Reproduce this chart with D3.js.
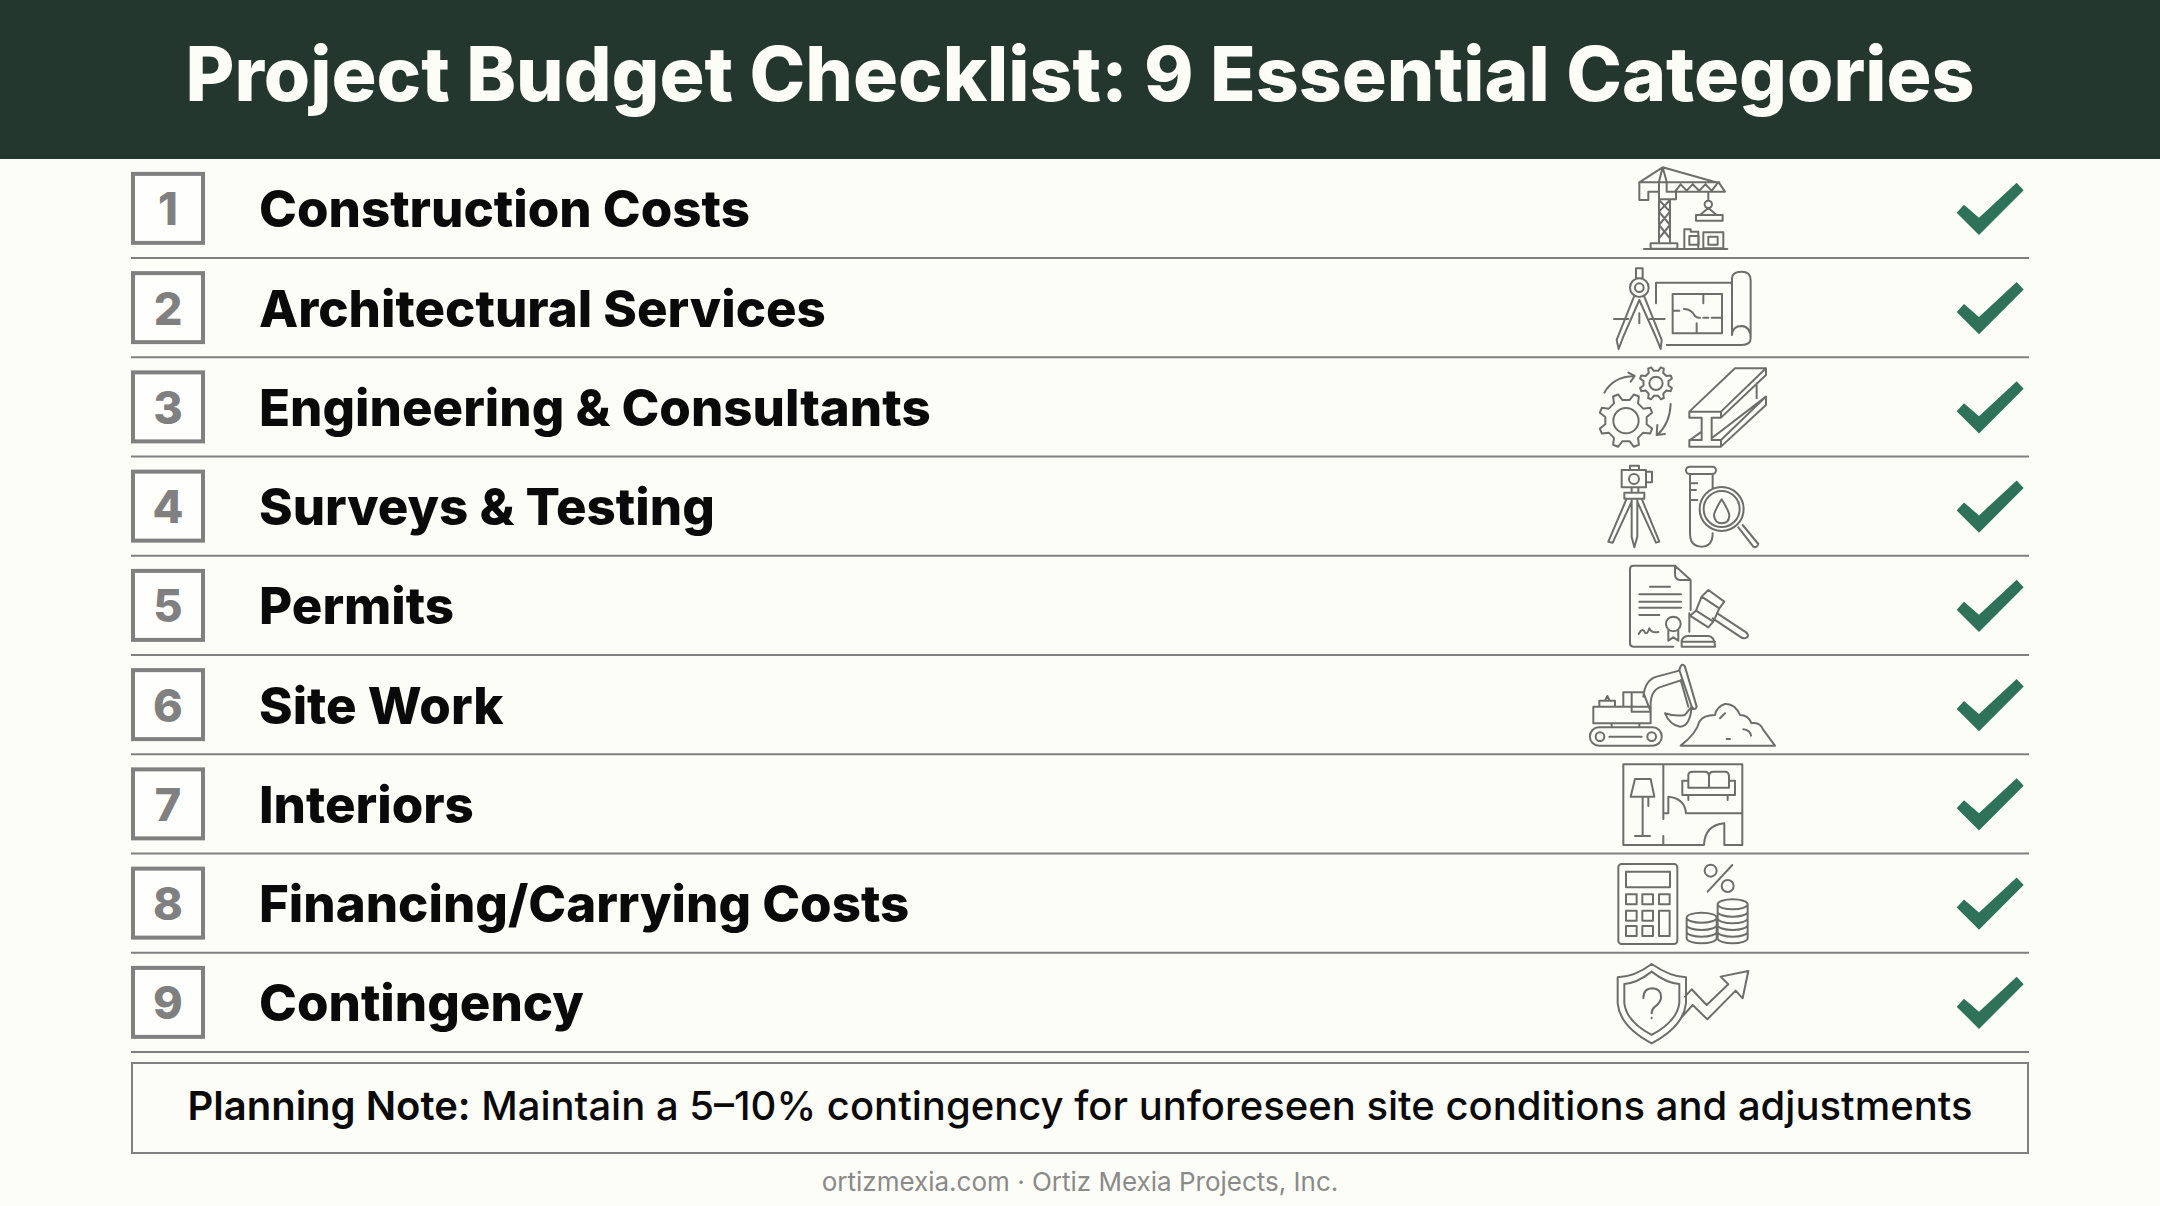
<!DOCTYPE html>
<html lang="en">
<head>
    <meta charset="utf-8">
    <title>Project Budget Checklist</title>
    <script src="https://d3js.org/d3.v7.min.js"></script>
    <style type="text/css">
        html, body { margin: 0; padding: 0; background: #fdfdf8; }
        svg { display: block; }
        text { font-family: Inter, sans-serif; }
        .icon path, .icon circle, .icon rect, .icon ellipse {
            fill: none;
            stroke: #6d6d6a;
            stroke-width: 6;
            stroke-linejoin: round;
            stroke-linecap: round;
        }
    </style>
</head>
<body>
<script type="text/javascript">

    var w = 2160;
    var h = 1206;

    var titleText = "Project Budget Checklist: 9 Essential Categories";
    var numbers = ["1", "2", "3", "4", "5", "6", "7", "8", "9"];
    var categories = [
        "Construction Costs",
        "Architectural Services",
        "Engineering & Consultants",
        "Surveys & Testing",
        "Permits",
        "Site Work",
        "Interiors",
        "Financing/Carrying Costs",
        "Contingency"
    ];
    var noteLead = "Planning Note:";
    var noteBody = " Maintain a 5–10% contingency for unforeseen site conditions and adjustments";
    var footerText = "ortizmexia.com · Ortiz Mexia Projects, Inc.";

    // gear outline, only used by the icon of row 3
    function gear(cx, cy, r1, r2, n) {
        var p = [];
        var step = 2 * Math.PI / n;
        for (var i = 0; i < n; i++) {
            var a = i * step - Math.PI / 2;
            [[-0.5, r1], [-0.3, r2], [0.3, r2], [0.5, r1]].forEach(function (t) {
                p.push([cx + t[1] * Math.cos(a + t[0] * step * 0.75), cy + t[1] * Math.sin(a + t[0] * step * 0.75)]);
            });
        }
        return "M" + p.join("L") + "Z";
    }

    function ring(cx, cy, r) {
        return "M" + (cx - r) + " " + cy + "A" + r + " " + r + " 0 1 1 " + (cx + r) + " " + cy + "A" + r + " " + r + " 0 1 1 " + (cx - r) + " " + cy + "Z";
    }

    function box(x, y, bw, bh) {
        return "M" + x + " " + y + "h" + bw + "v" + bh + "h" + (-bw) + "Z";
    }

    // icon outlines, drawn 3x bigger, relative to cropY and x = 1560
    var iconCrop = [150, 150, 150, 450, 450, 450, 750, 750, 750];
    var icons = [
        // crane
        "M297 95V280M330 148V280M297 150L330 185L297 225L330 265M330 150L297 185L330 225L297 265" + box(272, 280, 80, 16) +
        "M252 297H502M308 52L238 97V150H265V125H297M308 52L478 100L495 125H348M238 97H478M297 95L308 52L320 95V125H348V148H297" +
        "M345 125L362 103L380 122L398 103L418 122L436 103L455 122L470 103M445 125V152" + ring(445, 163, 11) +
        "M445 174L420 195M445 174L470 195" + box(408, 195, 80, 17) +
        "M373 295V238H392V245H415V295" + box(388, 258, 28, 26) + box(430, 247, 60, 48) + box(445, 260, 28, 24),
        // compass and blueprint
        box(228, 355, 20, 30) + ring(238, 413, 28) + ring(238, 413, 13) +
        "M222 440L170 570L176 597L190 560L238 450M253 440L305 570L302 597L285 555L238 450M162 507H205M270 507H314M238 490V520" +
        "M288 460V398H516M516 555V385Q516 365 545 365Q572 365 572 390V565Q572 585 545 585H320M516 555Q518 528 545 528Q572 530 572 565" +
        box(338, 432, 148, 118) + "M430 432V460M410 550V520M338 482H358M372 477Q395 478 405 498Q412 505 420 503M430 503H445M455 503H486",
        // gears and steel beam
        gear(288, 700, 50, 38, 8) + ring(288, 700, 20) + gear(198, 812, 82, 63, 8) + ring(198, 812, 38) +
        "M133 728Q160 680 222 678M205 668L224 678L212 695M332 762Q330 820 292 855M292 825L290 855L315 852" +
        "M388 785V803H425V870H388V890H483V870H455V803H483V785ZM388 785L525 655H618L483 785M618 655V675L483 803" +
        "M455 865L618 740V765L483 890M483 870L618 740M590 700V745M425 845L390 870",
        // total station, test tube and magnifier
        box(185, 60, 73, 52) + ring(222, 87, 15) + box(210, 47, 27, 13) + box(258, 65, 18, 32) + "M215 112V128M235 112V128" + box(193, 128, 60, 18) +
        "M200 146L145 275L158 278L215 155M215 146V260L223 292L232 260V146M245 146L298 275L288 278L232 155" +
        "M389 50H457A11 11 0 0 1 457 72H389A11 11 0 0 1 389 50ZM390 72V250Q390 290 425 290Q458 290 458 250M458 72V115M390 100H412M390 120H408M390 150H412" +
        ring(485, 177, 66) + ring(485, 177, 54) + "M485 148Q462 185 462 197Q465 220 485 220Q507 220 508 197Q508 185 485 148Z" +
        "M535 232L580 290Q590 295 595 282L548 225",
        // certificate and gavel
        "M345 347H220Q210 347 210 357V580Q210 590 220 590H340M345 347V370Q345 390 360 390H392L345 347M392 392V480M388 490V545" +
        "M270 410H330M238 433H363M238 455H363M238 473H363M238 495H298M236 552Q248 530 255 548Q262 555 268 535Q275 550 295 546" +
        ring(340, 522, 22) + "M325 542V572L340 562L355 572V542" +
        "M445 420L493 455L478 475L425 440ZM408 482L460 515L445 532L390 497ZM425 440L408 482M478 475L460 515" +
        "M472 490L555 545Q570 555 560 563Q550 568 540 560L458 505M365 590V572Q370 558 385 558H445Q465 560 465 590ZM365 575H465",
        // excavator and dirt pile
        "M117 832H278A27 27 0 0 1 278 887H117A27 27 0 0 1 117 832Z" + ring(120, 860, 13) + ring(275, 860, 13) + "M148 860H245" + box(100, 770, 172, 50) +
        "M155 820V832M238 820V832M190 770V727H250L272 785M215 727V785H272M118 770V752H165V770M135 752L142 738L148 750" +
        "M250 740Q255 690 290 680L358 662M272 770Q270 720 305 710L360 692M358 660Q365 635 375 650L410 770Q405 785 395 770ZM362 690L385 770" +
        "M315 790Q345 800 375 795L395 770Q390 830 360 830Q330 825 315 790" +
        "M362 887H645L610 840Q600 815 575 820Q565 795 540 795Q525 760 495 762Q470 770 465 795Q430 795 418 815Q410 850 362 887ZM480 805L495 790M500 867H510M550 838Q570 840 573 857",
        // floor plan with lamp and sofa
        "M432 285H190V43H547V285H493V220Q435 225 432 285M310 43V207M310 258V285M225 87H272L283 140H212ZM248 140V258M225 258H270M265 140V168" +
        "M385 92V75Q385 65 400 65H435Q447 65 447 80V113M447 80Q447 65 460 65H495Q507 65 507 80V92M367 92H385V113H507V92H525V135H367ZM385 135V150M503 135V150" +
        "M310 190H325V140Q375 145 378 190H547",
        // calculator, percent and coins
        "M185 342H342A10 10 0 0 1 352 352V572A10 10 0 0 1 342 582H185A10 10 0 0 1 175 572V352A10 10 0 0 1 185 342Z" + box(198, 365, 132, 47) +
        box(198, 433, 32, 30) + box(247, 433, 32, 30) + box(297, 433, 32, 30) + box(198, 482, 32, 30) + box(247, 482, 32, 30) +
        box(198, 528, 32, 30) + box(247, 528, 32, 30) + box(297, 482, 32, 76) +
        ring(452, 362, 18) + ring(503, 408, 18) + "M517 345L443 425" +
        "M473 463A45 15 0 0 1 563 463A45 15 0 0 1 473 463ZM473 463V565A45 15 0 0 0 563 565V463M473 485A45 15 0 0 0 563 485M473 505A45 15 0 0 0 563 505M473 525A45 15 0 0 0 563 525M473 545A45 15 0 0 0 563 545" +
        "M380 503A45 15 0 0 1 470 503A45 15 0 0 1 380 503ZM380 503V565A45 15 0 0 0 470 565V503M380 525A45 15 0 0 0 470 525M380 545A45 15 0 0 0 470 545",
        // shield and rising arrow
        "M275 642Q330 680 378 682V760Q370 830 275 880Q180 830 173 760V682Q225 680 275 642ZM275 665Q320 700 358 702V760Q350 815 275 855Q200 815 193 760V702Q230 700 275 665Z" +
        "M250 745Q250 715 278 715Q305 717 303 745Q300 760 285 770Q275 778 275 790M275 803V805" +
        "M375 740L395 718L440 765L505 703L482 680L565 663L548 745L527 722L442 808L398 765L362 805"
    ];

    var checkPath = "M170 140L192 116L237 155L350 50L371 73L237 207Z";

    var svg = d3.select("body")
        .append("svg")
        .attr("width", w)
        .attr("height", h);

    svg.append("rect")
        .attr("width", w)
        .attr("height", h)
        .attr("fill", "#fdfdf8");

    // header band
    svg.append("rect")
        .attr("width", w)
        .attr("height", 159)
        .attr("fill", "#24372f");

    svg.append("text")
        .attr("x", w / 2)
        .attr("y", 101)
        .attr("text-anchor", "middle")
        .attr("font-size", 75)
        .attr("font-weight", 800)
        .attr("fill", "#fdfdf8")
        .text(titleText);

    var yScale = d3.scaleBand()
        .domain(d3.range(categories.length))
        .range([158.75, 1052]);

    var rows = svg.selectAll("g.row")
        .data(categories)
        .enter()
        .append("g")
        .attr("class", "row")
        .attr("transform", function (d, i) {
            return "translate(0," + (yScale(i) + yScale.bandwidth() / 2) + ")";
        });

    // number boxes
    rows.append("rect")
        .attr("x", 133)
        .attr("y", -34.5)
        .attr("width", 70)
        .attr("height", 69)
        .attr("fill", "#fefefc")
        .attr("stroke", "#808080")
        .attr("stroke-width", 4);

    rows.append("text")
        .attr("x", 168)
        .attr("y", 17)
        .attr("text-anchor", "middle")
        .attr("font-size", 45)
        .attr("font-weight", 800)
        .attr("fill", "#808080")
        .text(function (d, i) { return numbers[i]; });

    // labels
    rows.append("text")
        .attr("x", 259)
        .attr("y", 19)
        .attr("font-size", 51)
        .attr("font-weight", 800)
        .attr("fill", "#0a0a0a")
        .text(function (d) { return d; });

    // separators
    rows.append("line")
        .attr("x1", 131)
        .attr("x2", 2029)
        .attr("y1", yScale.bandwidth() / 2)
        .attr("y2", yScale.bandwidth() / 2)
        .attr("stroke", "#808080")
        .attr("stroke-width", 2);

    // check marks
    rows.append("path")
        .attr("d", checkPath)
        .attr("transform", "translate(1900,-42.4) scale(0.3333)")
        .attr("fill", "#2e7359");

    // icons
    svg.selectAll("g.icon")
        .data(icons)
        .enter()
        .append("g")
        .attr("class", "icon")
        .attr("transform", function (d, i) {
            return "translate(1560," + iconCrop[i] + ") scale(0.3333)";
        })
        .append("path")
        .attr("d", function (d) { return d; });

    // planning note
    svg.append("rect")
        .attr("x", 132)
        .attr("y", 1063)
        .attr("width", 1896)
        .attr("height", 90)
        .attr("fill", "none")
        .attr("stroke", "#808080")
        .attr("stroke-width", 2);

    var note = svg.append("text")
        .attr("x", w / 2)
        .attr("y", 1120)
        .attr("text-anchor", "middle")
        .attr("font-size", 40)
        .attr("fill", "#0a0a0a");
    note.append("tspan").attr("font-weight", 600).text(noteLead);
    note.append("tspan").attr("font-weight", 500).text(noteBody);

    svg.append("text")
        .attr("x", w / 2)
        .attr("y", 1191)
        .attr("text-anchor", "middle")
        .attr("font-size", 26)
        .attr("fill", "#8a8a88")
        .text(footerText);

</script>
</body>
</html>
